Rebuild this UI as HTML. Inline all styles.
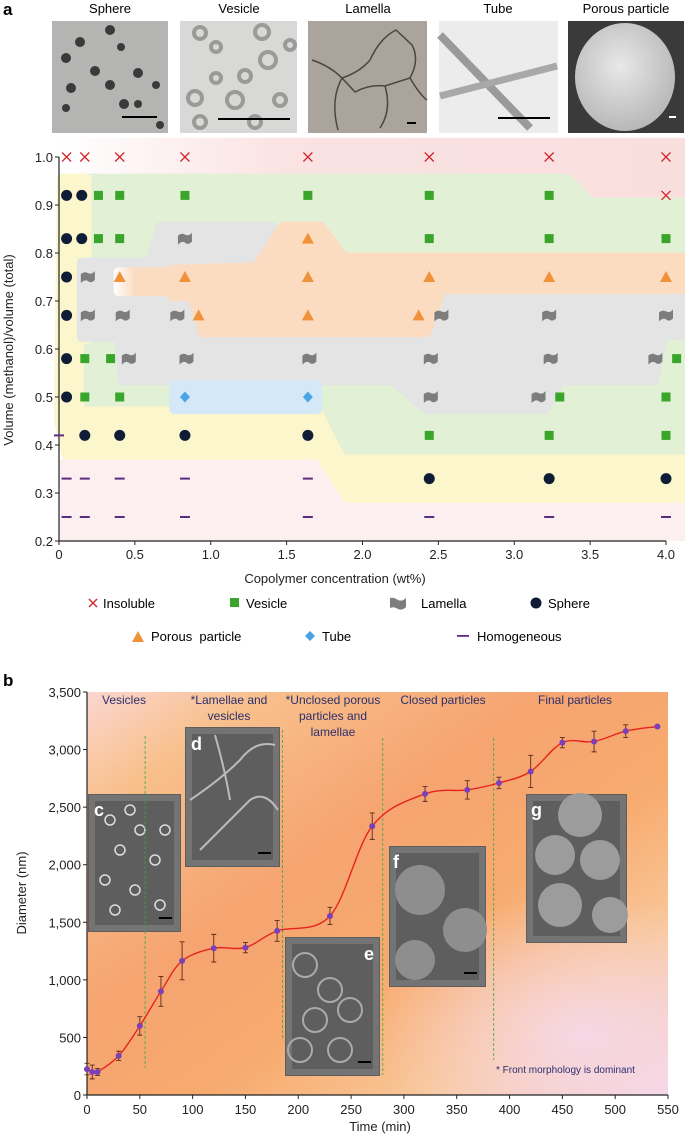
<!DOCTYPE html>
<html><head><meta charset="utf-8">
<style>
html,body{margin:0;padding:0;background:#fff;}
svg{display:block;font-family:"Liberation Sans",sans-serif;}
</style></head>
<body>
<svg id="fig" width="685" height="1139" viewBox="0 0 685 1139" xmlns="http://www.w3.org/2000/svg">
<defs>
<linearGradient id="topPink" x1="0" x2="1" y1="0" y2="0"><stop offset="0" stop-color="#ffffff"/><stop offset="0.35" stop-color="#fbe3e3"/><stop offset="1" stop-color="#f9dede"/></linearGradient>
<linearGradient id="orangeG" x1="0" x2="1" y1="0" y2="0"><stop offset="0" stop-color="#ffffff"/><stop offset="0.25" stop-color="#fbdcc0"/><stop offset="1" stop-color="#fbdcc0"/></linearGradient>
<linearGradient id="bgB" x1="0" y1="0" x2="1" y2="1"><stop offset="0" stop-color="#fbd6d0"/><stop offset="0.15" stop-color="#f8c08c"/><stop offset="0.4" stop-color="#f6a470"/><stop offset="0.6" stop-color="#f7aa6e"/><stop offset="0.8" stop-color="#f9c89a"/><stop offset="1" stop-color="#f5d6e6"/></linearGradient>
<radialGradient id="pinkSpot" cx="0.85" cy="0.85" r="0.35"><stop offset="0" stop-color="#f6d8ea" stop-opacity="0.9"/><stop offset="1" stop-color="#f6d8ea" stop-opacity="0"/></radialGradient>
<radialGradient id="porousG" cx="0.45" cy="0.4" r="0.6"><stop offset="0" stop-color="#e8e8e8"/><stop offset="1" stop-color="#b8b8b8"/></radialGradient>
</defs>

<text x="3" y="15" font-size="17" font-weight="bold">a</text>
<g font-size="13" text-anchor="middle">
<text x="110" y="13">Sphere</text>
<text x="239" y="13">Vesicle</text>
<text x="368" y="13">Lamella</text>
<text x="498" y="13">Tube</text>
<text x="626" y="13">Porous particle</text>
</g>
<g>
<rect x="52" y="21" width="116" height="112" fill="#b4b4b2"/>
<g fill="#3a3a3a"><circle cx="80" cy="42" r="5"/><circle cx="110" cy="30" r="5"/><circle cx="121" cy="47" r="4"/><circle cx="66" cy="58" r="5"/><circle cx="95" cy="71" r="5"/><circle cx="138" cy="73" r="5"/><circle cx="71" cy="88" r="5"/><circle cx="110" cy="85" r="5"/><circle cx="156" cy="85" r="4"/><circle cx="66" cy="108" r="4"/><circle cx="124" cy="104" r="5"/><circle cx="138" cy="104" r="4"/><circle cx="160" cy="125" r="4"/></g>
<rect x="122" y="116" width="35" height="2" fill="#000"/>
</g>
<g>
<rect x="180" y="21" width="117" height="112" fill="#d8d8d6"/>
<g fill="none" stroke="#9a9a98" stroke-width="4"><circle cx="200" cy="33" r="6"/><circle cx="216" cy="47" r="5"/><circle cx="262" cy="32" r="7"/><circle cx="268" cy="60" r="8"/><circle cx="245" cy="76" r="6"/><circle cx="216" cy="78" r="5"/><circle cx="195" cy="98" r="7"/><circle cx="235" cy="100" r="8"/><circle cx="280" cy="100" r="6"/><circle cx="200" cy="122" r="6"/><circle cx="255" cy="122" r="6"/><circle cx="290" cy="45" r="5"/></g>
<rect x="218" y="118" width="72" height="2" fill="#000"/>
</g>
<g>
<rect x="308" y="21" width="119" height="112" fill="#aaa49c"/>
<path d="M312 60 Q330 66 342 78 L355 92 Q370 84 385 86 L410 78 Q420 60 412 45 L396 30 Q380 38 370 60 Q360 72 342 78 M342 78 Q330 100 338 130 M385 86 Q392 110 380 128 M410 78 Q420 95 427 100" fill="none" stroke="#4a4540" stroke-width="1.5"/>
<rect x="407" y="122" width="9" height="2" fill="#000"/>
</g>
<g>
<rect x="439" y="21" width="119" height="112" fill="#ececec"/>
<path d="M440 35 L530 128" stroke="#9a9a9a" stroke-width="8"/>
<path d="M440 96 L557 66" stroke="#a8a8a8" stroke-width="7"/>
<rect x="498" y="117" width="52" height="2" fill="#000"/>
</g>
<g>
<rect x="568" y="21" width="116" height="112" fill="#3a3a3a"/>
<ellipse cx="625" cy="77" rx="50" ry="54" fill="url(#porousG)"/>
<rect x="669" y="116" width="7" height="2" fill="#fff"/>
</g>

<g id="phase"></g>

<g font-size="13">
<g><path d="M89 599 L97 607 M97 599 L89 607" stroke="#d0262c" stroke-width="1.4"/><text x="103" y="608">Insoluble</text></g>
<g><rect x="230" y="598" width="9" height="9" fill="#3aa52b"/><text x="246" y="608">Vesicle</text></g>
<g><path d="M390 598 Q394 597 398 600 Q402 602 406 598 L406 607 Q402 611 398 609 Q394 606 390 608 Z" fill="#7d7d7d"/><text x="421" y="608">Lamella</text></g>
<g><circle cx="536" cy="603" r="5.5" fill="#0f1c36"/><text x="548" y="608">Sphere</text></g>
<g><path d="M132 642 L138 631 L144 642 Z" fill="#f0923a"/><text x="151" y="641" xml:space="preserve">Porous  particle</text></g>
<g><path d="M310 631 L315 636 L310 641 L305 636 Z" fill="#4aa3e6"/><text x="322" y="641">Tube</text></g>
<g><rect x="457" y="635" width="12" height="1.8" fill="#5b2c83"/><text x="477" y="641">Homogeneous</text></g>
</g>

<text x="3" y="686" font-size="17" font-weight="bold">b</text>
<g id="growth"></g>
</svg>
<script>
// ---------- Panel a data ----------
const xTicksA = [0, 0.5, 1.0, 1.5, 2.0, 2.5, 3.0, 3.5, 4.0];
const xTickLabelsA = ["0","0.5","1.0","1.5","2.0","2.5","3.0","3.5","4.0"];
const yTicksA = [0.2,0.3,0.4,0.5,0.6,0.7,0.8,0.9,1.0];
const yTickLabelsA = ["0.2","0.3","0.4","0.5","0.6","0.7","0.8","0.9","1.0"];
const insolubleX = [0.05,0.17,0.4,0.83,1.64,2.44,3.23,4.0,4.0];
const insolubleY = [1.0,1.0,1.0,1.0,1.0,1.0,1.0,1.0,0.92];
const sphereX = [0.05,0.15,0.05,0.15,0.05,0.05,0.05,0.05,0.17,0.4,0.83,1.64,2.44,3.23,4.0];
const sphereY = [0.92,0.92,0.83,0.83,0.75,0.67,0.58,0.5,0.42,0.42,0.42,0.42,0.33,0.33,0.33];
const vesicleX = [0.26,0.4,0.83,1.64,2.44,3.23,0.26,0.4,2.44,3.23,4.0,0.17,0.34,4.07,0.17,0.4,3.3,4.0,2.44,3.23,4.0];
const vesicleY = [0.92,0.92,0.92,0.92,0.92,0.92,0.83,0.83,0.83,0.83,0.83,0.58,0.58,0.58,0.5,0.5,0.5,0.5,0.42,0.42,0.42];
const lamellaX = [0.83,0.19,0.19,0.42,0.78,2.52,3.23,4.0,0.46,0.84,1.65,2.45,3.24,3.93,2.45,3.16];
const lamellaY = [0.83,0.75,0.67,0.67,0.67,0.67,0.67,0.67,0.58,0.58,0.58,0.58,0.58,0.58,0.5,0.5];
const porousX = [1.64,0.4,0.83,1.64,2.44,3.23,4.0,0.92,1.64,2.37];
const porousY = [0.83,0.75,0.75,0.75,0.75,0.75,0.75,0.67,0.67,0.67];
const tubeX = [0.83,1.64];
const tubeY = [0.5,0.5];
const homogX = [0.0,0.05,0.17,0.4,0.83,1.64,0.05,0.17,0.4,0.83,1.64,2.44,3.23,4.0];
const homogY = [0.42,0.33,0.33,0.33,0.33,0.33,0.25,0.25,0.25,0.25,0.25,0.25,0.25,0.25];

// ---------- Panel b data ----------
const timeMin = [0,5,10,30,50,70,90,120,150,180,230,270,320,360,390,420,450,480,510,540];
const diameterNm = [225,200,200,340,600,900,1165,1275,1280,1425,1555,2335,2615,2650,2710,2810,3060,3070,3160,3200];
const errorNm = [50,60,30,40,80,130,165,120,45,90,75,115,65,80,50,140,45,90,55,0];
const xTicksB = [0,50,100,150,200,250,300,350,400,450,500,550];
const yTicksB = [0,500,1000,1500,2000,2500,3000,3500];
const yTickLabelsB = ["0","500","1,000","1,500","2,000","2,500","3,000","3,500"];

const NS = "http://www.w3.org/2000/svg";
function mk(parent, tag, attrs, txt){
  const e = document.createElementNS(NS, tag);
  for (const k in attrs) e.setAttribute(k, attrs[k]);
  if (txt !== undefined) e.textContent = txt;
  parent.appendChild(e);
  return e;
}

// ---- Panel a ----
const XA = v => 59 + v * 151.75;
const YA = v => 157 + (1 - v) * 480;
const ga = document.getElementById('phase');

function region(pts, fill, name){
  const pd = pts.map((p,i)=>(i?'L':'M')+XA(p[0]).toFixed(1)+' '+YA(p[1]).toFixed(1)).join(' ')+' Z';
  const r = mk(ga,'path',{d:pd, fill:fill, stroke:fill, 'stroke-width':10, 'stroke-linejoin':'round'});
  
  
}
const bg = mk(ga,'rect',{x:XA(0),y:YA(1.04),width:XA(4.15)-XA(0),height:YA(0.2)-YA(1.04),fill:'url(#topPink)'});


const lowPink = mk(ga,'rect',{x:XA(0),y:YA(0.37),width:XA(4.15)-XA(0),height:YA(0.2)-YA(0.37),fill:'#fcefef'});


region([[0.2,0.955],[3.35,0.955],[3.5,0.905],[4.12,0.905],[4.12,0.38],[1.85,0.38],[1.72,0.47],[0.13,0.47],[0.13,0.955]], '#e2f0d6', 'vesicle-region');
region([[0.02,0.955],[0.18,0.955],[0.18,0.62],[0.13,0.62],[0.13,0.47],[1.7,0.47],[1.86,0.37],[4.12,0.37],[4.12,0.29],[1.9,0.29],[1.72,0.38],[0.05,0.38],[0.0,0.45],[0.02,0.955]], '#fcf6cc', 'sphere-region');
region([[0.15,0.78],[0.6,0.78],[0.67,0.855],[1.4,0.855],[1.5,0.78],[4.12,0.78],[4.12,0.63],[3.98,0.63],[3.92,0.535],[3.3,0.535],[3.2,0.475],[2.42,0.475],[2.2,0.535],[0.42,0.535],[0.4,0.625],[0.15,0.625]], '#e4e4e4', 'lamella-region');
region([[0.75,0.765],[1.3,0.77],[1.48,0.855],[1.72,0.855],[1.88,0.79],[4.12,0.79],[4.12,0.725],[2.52,0.725],[2.42,0.635],[0.95,0.635],[0.88,0.71],[0.75,0.71]], '#fbdcc0', 'porous-region');
const wr = mk(ga,'rect',{x:XA(0.36),y:YA(0.77),width:XA(0.9)-XA(0.36),height:YA(0.71)-YA(0.77),rx:5,fill:'url(#orangeG)'});


region([[0.76,0.525],[1.7,0.525],[1.7,0.475],[0.76,0.475]], '#d5e8f7', 'tube-region');

const axA = mk(ga,'path',{d:`M${XA(0)} ${YA(1.0)} L${XA(0)} ${YA(0.2)} L${XA(4.0)} ${YA(0.2)}`,fill:'none',stroke:'#222','stroke-width':1.2});


xTicksA.forEach((v,i)=>{
  const t = mk(ga,'line',{x1:XA(v),x2:XA(v),y1:YA(0.2),y2:YA(0.2)+4,stroke:'#222'});
  
  
  const l = mk(ga,'text',{x:XA(v),y:YA(0.2)+18,'font-size':13,'text-anchor':'middle',fill:'#222'},xTickLabelsA[i]);
  
  
});
yTicksA.forEach((v,i)=>{
  const t = mk(ga,'line',{x1:XA(0)-4,x2:XA(0),y1:YA(v),y2:YA(v),stroke:'#222'});
  
  
  const l = mk(ga,'text',{x:XA(0)-6,y:YA(v)+5,'font-size':13,'text-anchor':'end',fill:'#222'},yTickLabelsA[i]);
  
  
});
const xtA = mk(ga,'text',{x:335,y:583,'font-size':13,'text-anchor':'middle',fill:'#222'},'Copolymer concentration (wt%)');


const ytA = mk(ga,'text',{x:0,y:0,'font-size':13,'text-anchor':'middle',fill:'#222',transform:'translate(13,350) rotate(-90)'},'Volume (methanol)/volume (total)');



insolubleX.forEach((v,i)=>{
  const x=XA(v), y=YA(insolubleY[i]);
  const m = mk(ga,'path',{d:`M${x-4.5} ${y-4.5} L${x+4.5} ${y+4.5} M${x+4.5} ${y-4.5} L${x-4.5} ${y+4.5}`,stroke:'#d0262c','stroke-width':1.3});
  
  
});
vesicleX.forEach((v,i)=>{
  const x=XA(v), y=YA(vesicleY[i]);
  const m = mk(ga,'rect',{x:x-4.5,y:y-4.5,width:9,height:9,fill:'#3aa52b'});
  
  
});
lamellaX.forEach((v,i)=>{
  const x=XA(v), y=YA(lamellaY[i]);
  const m = mk(ga,'path',{d:`M${x-7} ${y-3} Q${x-3} ${y-6} ${x} ${y-4} Q${x+4} ${y-2} ${x+7} ${y-6} L${x+7} ${y+3} Q${x+3} ${y+7} ${x} ${y+4} Q${x-3} ${y+2} ${x-7} ${y+6} Z`,fill:'#7d7d7d'});
  
  
});
sphereX.forEach((v,i)=>{
  const m = mk(ga,'circle',{cx:XA(v),cy:YA(sphereY[i]),r:5.5,fill:'#0f1c36'});
  
  
});
porousX.forEach((v,i)=>{
  const x=XA(v), y=YA(porousY[i]);
  const m = mk(ga,'path',{d:`M${x-6} ${y+5} L${x} ${y-6} L${x+6} ${y+5} Z`,fill:'#f0923a'});
  
  
});
tubeX.forEach((v,i)=>{
  const x=XA(v), y=YA(tubeY[i]);
  const m = mk(ga,'path',{d:`M${x} ${y-5.5} L${x+5} ${y} L${x} ${y+5.5} L${x-5} ${y} Z`,fill:'#4aa3e6'});
  
  
});
homogX.forEach((v,i)=>{
  const x=XA(v), y=YA(homogY[i]);
  const m = mk(ga,'rect',{x:x-5,y:y-1,width:10,height:2,fill:'#5b2c83'});
  
  
});

// ---- Panel b ----
const XB = v => 87 + v * (581/550);
const YB = v => 1095 - v * (403/3500);
const gb = document.getElementById('growth');
const bgb = mk(gb,'rect',{x:XB(0),y:YB(3500),width:XB(550)-XB(0),height:YB(0)-YB(3500),fill:'url(#bgB)'});


const bgp = mk(gb,'rect',{x:XB(0),y:YB(3500),width:XB(550)-XB(0),height:YB(0)-YB(3500),fill:'url(#pinkSpot)'});



function inset(x1,y1,x2,y2,label,lx,ly,name){
  const g = mk(gb,'g',{});
  
  
  mk(g,'rect',{x:x1,y:y1,width:x2-x1,height:y2-y1,fill:'#5e5e5e'});
  mk(g,'rect',{x:x1+4,y:y1+4,width:x2-x1-8,height:y2-y1-8,fill:'none',stroke:'#8a8a8a','stroke-width':6,opacity:0.5});
  mk(g,'text',{x:lx,y:ly,'font-size':18,'font-weight':'bold',fill:'#fff'},label);
  mk(g,'rect',{x:x2-22,y:y2-15,width:13,height:2,fill:'#000'});
  return g;
}
const gc = inset(88,794,181,932,'c',94,816,'inset-c');
[[110,820],[130,810],[140,830],[120,850],[155,860],[105,880],[135,890],[160,905],[115,910],[165,830]].forEach(p=>mk(gc,'circle',{cx:p[0],cy:p[1],r:5,fill:'none',stroke:'#ddd','stroke-width':1.5}));
const gdd = inset(185,727,280,867,'d',191,750,'inset-d');
mk(gdd,'path',{d:'M190 800 Q220 780 240 760 Q255 740 275 745 M200 850 Q230 820 250 800 Q265 790 278 810 M215 735 Q225 770 230 800',fill:'none',stroke:'#bbb','stroke-width':2});
const ge = inset(285,937,380,1076,'e',364,960,'inset-e');
[[305,965],[330,990],[315,1020],[350,1010],[340,1050],[300,1050]].forEach(p=>mk(ge,'circle',{cx:p[0],cy:p[1],r:12,fill:'none',stroke:'#aaa','stroke-width':2}));
const gf = inset(389,846,486,987,'f',393,868,'inset-f');
[[420,890,25],[465,930,22],[415,960,20]].forEach(c=>mk(gf,'circle',{cx:c[0],cy:c[1],r:c[2],fill:'#8e8e8e'}));
const gg = inset(526,794,627,943,'g',531,816,'inset-g');
[[580,815,22],[555,855,20],[600,860,20],[560,905,22],[610,915,18]].forEach(c=>mk(gg,'circle',{cx:c[0],cy:c[1],r:c[2],fill:'#9c9c9c'}));

[[55,736,1068],[185,730,1040],[280,738,1075],[385,738,1060]].forEach(q=>{
  const l = mk(gb,'line',{x1:XB(q[0]),x2:XB(q[0]),y1:q[1],y2:q[2],stroke:'#3aa54a','stroke-width':0.8,'stroke-dasharray':'3,2'});
  
  
});

[['Vesicles',124,704],['*Lamellae and',229,704],['vesicles',229,720],['*Unclosed porous',333,704],['particles and',333,720],['lamellae',333,736],['Closed particles',443,704],['Final particles',575,704]].forEach(s=>{
  const t = mk(gb,'text',{x:s[1],y:s[2],'font-size':12,'text-anchor':'middle',fill:'#2b2f6e'},s[0]);
  
  
});
const note = mk(gb,'text',{x:496,y:1073,'font-size':10,fill:'#2b2f6e'},'* Front morphology is dominant');



const axB = mk(gb,'path',{d:`M${XB(0)} ${YB(3500)} L${XB(0)} ${YB(0)} L${XB(550)} ${YB(0)}`,fill:'none',stroke:'#222','stroke-width':1.2});


xTicksB.forEach(v=>{
  const t = mk(gb,'line',{x1:XB(v),x2:XB(v),y1:YB(0),y2:YB(0)+4,stroke:'#222'});
  
  
  const l = mk(gb,'text',{x:XB(v),y:YB(0)+19,'font-size':13,'text-anchor':'middle',fill:'#222'},String(v));
  
  
});
yTicksB.forEach((v,i)=>{
  const t = mk(gb,'line',{x1:XB(0)-4,x2:XB(0),y1:YB(v),y2:YB(v),stroke:'#222'});
  
  
  const l = mk(gb,'text',{x:XB(0)-6,y:YB(v)+5,'font-size':13,'text-anchor':'end',fill:'#222'},yTickLabelsB[i]);
  
  
});
const xtB = mk(gb,'text',{x:380,y:1131,'font-size':13,'text-anchor':'middle',fill:'#222'},'Time (min)');


const ytB = mk(gb,'text',{x:0,y:0,'font-size':13,'text-anchor':'middle',fill:'#222',transform:'translate(26,893) rotate(-90)'},'Diameter (nm)');



const P = timeMin.map((t,i)=>[XB(t),YB(diameterNm[i])]);
let cd = `M${P[0][0]} ${P[0][1]}`;
for (let i=0;i<P.length-1;i++){
  const p0=P[Math.max(0,i-1)], p1=P[i], p2=P[i+1], p3=P[Math.min(P.length-1,i+2)];
  const c1=[p1[0]+(p2[0]-p0[0])/6, p1[1]+(p2[1]-p0[1])/6];
  const c2=[p2[0]-(p3[0]-p1[0])/6, p2[1]-(p3[1]-p1[1])/6];
  cd += ` C${c1[0].toFixed(1)} ${c1[1].toFixed(1)} ${c2[0].toFixed(1)} ${c2[1].toFixed(1)} ${p2[0].toFixed(1)} ${p2[1].toFixed(1)}`;
}
const curve = mk(gb,'path',{d:cd,fill:'none',stroke:'#e8231f','stroke-width':1.4});


timeMin.forEach((t,i)=>{
  const x=XB(t), y1=YB(diameterNm[i]+errorNm[i]), y2=YB(diameterNm[i]-errorNm[i]);
  if (errorNm[i]>0){
    const e = mk(gb,'path',{d:`M${x} ${y1} L${x} ${y2} M${x-2.5} ${y1} L${x+2.5} ${y1} M${x-2.5} ${y2} L${x+2.5} ${y2}`,stroke:'#5a2a1a','stroke-width':0.9});
    
    
  }
  const c = mk(gb,'circle',{cx:x,cy:YB(diameterNm[i]),r:3,fill:'#7b3fb8'});
  
  
});
</script>
</body></html>
